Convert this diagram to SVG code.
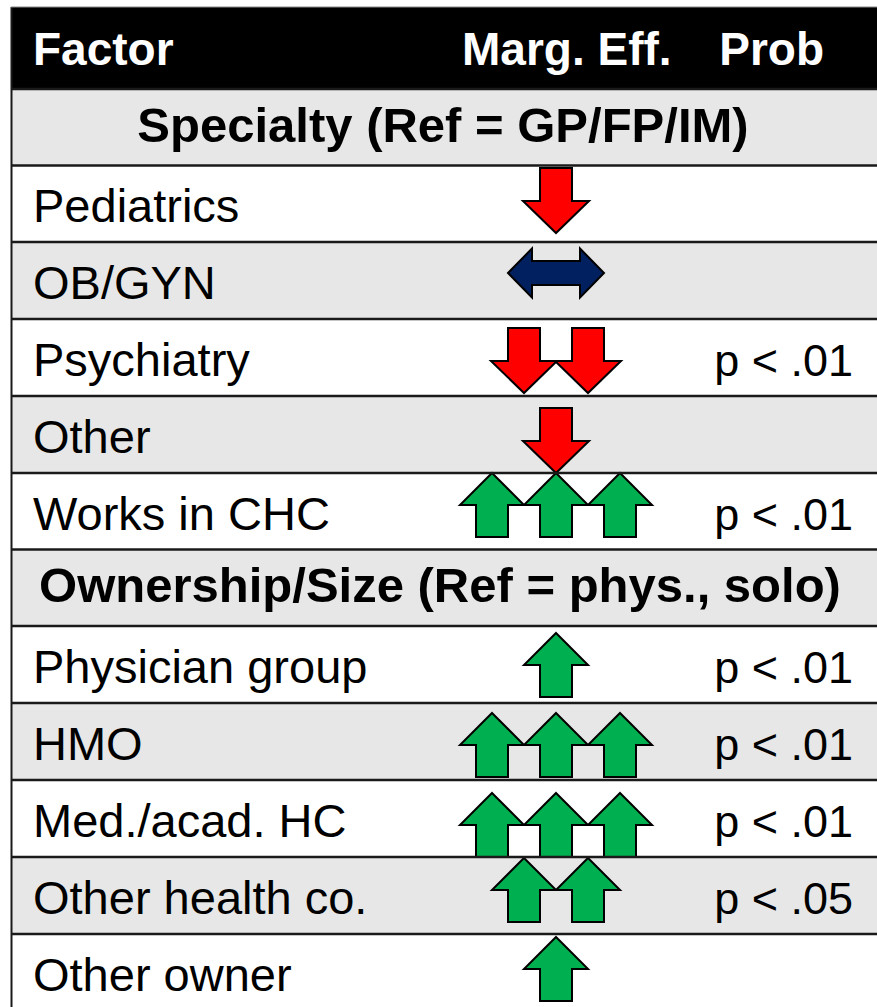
<svg xmlns="http://www.w3.org/2000/svg" xmlns:xlink="http://www.w3.org/1999/xlink" width="877" height="1007" viewBox="0 0 877 1007">
<style>
.bg{fill:#ffffff}
.gray{fill:#e7e7e7}
.line{stroke:#1a1a1a;stroke-width:2.5}
.hdr{font-family:"Liberation Sans",Arial,sans-serif;font-weight:bold;font-size:46px;fill:#ffffff}
.sec{font-family:"Liberation Sans",Arial,sans-serif;font-weight:bold;font-size:49px;fill:#000000;text-anchor:middle}
.txt{font-family:"Liberation Sans",Arial,sans-serif;font-size:47px;fill:#000000}
.p{font-family:"Liberation Sans",Arial,sans-serif;font-size:45px;fill:#000000;text-anchor:end}
.red{fill:#ff0000;stroke:#000;stroke-width:2;stroke-linejoin:miter}
.green{fill:#00b050;stroke:#000;stroke-width:2;stroke-linejoin:miter}
.navy{fill:#002060;stroke:#000;stroke-width:2;stroke-linejoin:miter}
</style>
<defs>
<polygon id="down" points="-16,0 16,0 16,33 33,33 0,65 -33,33 -16,33"/>
<polygon id="up" points="0,0 32,32 16,32 16,64 -16,64 -16,32 -32,32"/>
</defs>
<rect x="0" y="0" width="877" height="1007" class="bg"/>

<g id="header">
<rect x="11" y="7" width="870" height="82" fill="#000"/>
<text class="hdr" x="33" y="65">Factor</text>
<text class="hdr" x="462" y="65">Marg. Eff.</text>
<text class="hdr" x="824" y="65" text-anchor="end">Prob</text>
</g>

<g id="row-specialty">
<rect x="11" y="89" width="870" height="76.5" class="gray"/>
<text class="sec" x="443" y="142">Specialty (Ref = GP/FP/IM)</text>
</g>

<g id="row-pediatrics">
<rect x="11" y="165.5" width="870" height="76.5" class="bg"/>
<text class="txt" x="33" y="222">Pediatrics</text>
<use xlink:href="#down" x="556" y="168" class="red"/>
</g>

<g id="row-obgyn">
<rect x="11" y="242" width="870" height="77" class="gray"/>
<text class="txt" x="33" y="299">OB/GYN</text>
<polygon class="navy" points="508,273 532,248.5 532,261 580,261 580,248.5 604,273 580,297.5 580,285 532,285 532,297.5"/>
</g>

<g id="row-psychiatry">
<rect x="11" y="319" width="870" height="77" class="bg"/>
<text class="txt" x="33" y="376">Psychiatry</text>
<use xlink:href="#down" x="524" y="328" class="red"/>
<use xlink:href="#down" x="588" y="328" class="red"/>
<text class="p" x="853" y="376">p &lt; .01</text>
</g>

<g id="row-other">
<rect x="11" y="396" width="870" height="77" class="gray"/>
<text class="txt" x="33" y="453">Other</text>
<use xlink:href="#down" x="556" y="408" class="red"/>
</g>

<g id="row-chc">
<rect x="11" y="473" width="870" height="76.5" class="bg"/>
<text class="txt" x="33" y="530">Works in CHC</text>
<use xlink:href="#up" x="492" y="473" class="green"/>
<use xlink:href="#up" x="556" y="473" class="green"/>
<use xlink:href="#up" x="620" y="473" class="green"/>
<text class="p" x="853" y="530">p &lt; .01</text>
</g>

<g id="row-ownership">
<rect x="11" y="549.5" width="870" height="76.5" class="gray"/>
<text class="sec" x="440" y="602">Ownership/Size (Ref = phys., solo)</text>
</g>

<g id="row-physgroup">
<rect x="11" y="626" width="870" height="77" class="bg"/>
<text class="txt" x="33" y="683">Physician group</text>
<use xlink:href="#up" x="556" y="633" class="green"/>
<text class="p" x="853" y="683">p &lt; .01</text>
</g>

<g id="row-hmo">
<rect x="11" y="703" width="870" height="77" class="gray"/>
<text class="txt" x="33" y="760">HMO</text>
<use xlink:href="#up" x="492" y="713" class="green"/>
<use xlink:href="#up" x="556" y="713" class="green"/>
<use xlink:href="#up" x="620" y="713" class="green"/>
<text class="p" x="853" y="760">p &lt; .01</text>
</g>

<g id="row-medacad">
<rect x="11" y="780" width="870" height="77" class="bg"/>
<text class="txt" x="33" y="837">Med./acad. HC</text>
<use xlink:href="#up" x="492" y="793" class="green"/>
<use xlink:href="#up" x="556" y="793" class="green"/>
<use xlink:href="#up" x="620" y="793" class="green"/>
<text class="p" x="853" y="837">p &lt; .01</text>
</g>

<g id="row-otherhealth">
<rect x="11" y="857" width="870" height="77" class="gray"/>
<text class="txt" x="33" y="914">Other health co.</text>
<use xlink:href="#up" x="524" y="858" class="green"/>
<use xlink:href="#up" x="588" y="858" class="green"/>
<text class="p" x="853" y="914">p &lt; .05</text>
</g>

<g id="row-otherowner">
<rect x="11" y="934" width="870" height="80" class="bg"/>
<text class="txt" x="33" y="991">Other owner</text>
<use xlink:href="#up" x="556" y="937" class="green"/>
</g>

<g id="grid">
<line class="line" x1="11" y1="89" x2="877" y2="89"/>
<line class="line" x1="11" y1="165.5" x2="877" y2="165.5"/>
<line class="line" x1="11" y1="242" x2="877" y2="242"/>
<line class="line" x1="11" y1="319" x2="877" y2="319"/>
<line class="line" x1="11" y1="396" x2="877" y2="396"/>
<line class="line" x1="11" y1="473" x2="877" y2="473"/>
<line class="line" x1="11" y1="549.5" x2="877" y2="549.5"/>
<line class="line" x1="11" y1="626" x2="877" y2="626"/>
<line class="line" x1="11" y1="703" x2="877" y2="703"/>
<line class="line" x1="11" y1="780" x2="877" y2="780"/>
<line class="line" x1="11" y1="857" x2="877" y2="857"/>
<line class="line" x1="11" y1="934" x2="877" y2="934"/>
<line x1="11.5" y1="7" x2="11.5" y2="1007" stroke="#1a1a1a" stroke-width="2"/>
<line x1="11" y1="7" x2="877" y2="7" stroke="#888" stroke-width="1"/>
</g>
</svg>
